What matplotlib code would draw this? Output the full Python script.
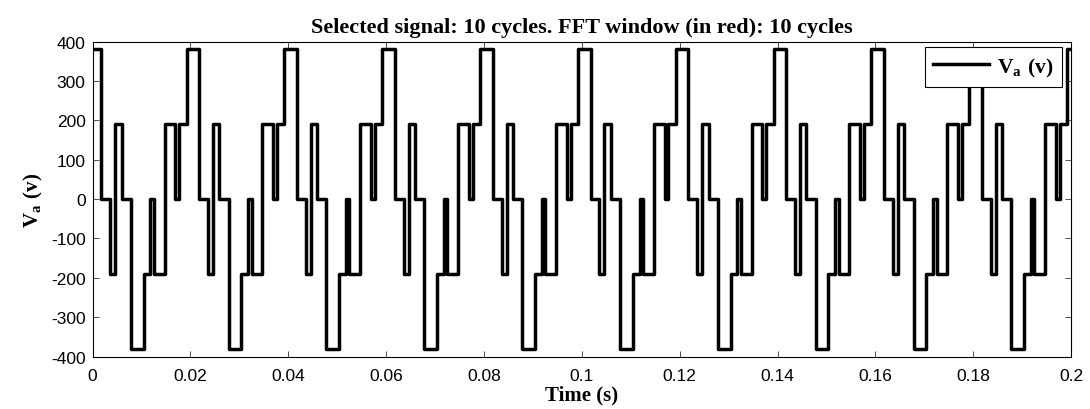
import matplotlib
matplotlib.use("Agg")
import matplotlib.pyplot as plt
import numpy as np

plt.rcParams['font.family'] = 'Liberation Sans'
plt.rcParams['axes.unicode_minus'] = False
plt.rcParams['mathtext.fontset'] = 'custom'
plt.rcParams['mathtext.bf'] = 'Liberation Serif:bold'
plt.rcParams['mathtext.rm'] = 'Liberation Serif:bold'

# one switching cycle: edge times (ms into the cycle) and level after each edge
edge_ms = [0.0, 1.8, 3.6, 4.6, 5.9, 7.8, 10.4, 11.8, 12.5, 14.7, 16.9, 17.7, 19.2]
levels = [380, 0, -190, 190, 0, -380, -190, 0, -190, 190, 0, 190, 380]
cycle_start = [0.0, 0.02, 0.04, 0.06, 0.08, 0.10, 0.12, 0.14, 0.16, 0.18]
t_end = 0.2

xticks = [0, 0.02, 0.04, 0.06, 0.08, 0.1, 0.12, 0.14, 0.16, 0.18, 0.2]
xlabels = ['0', '0.02', '0.04', '0.06', '0.08', '0.1', '0.12', '0.14', '0.16', '0.18', '0.2']
yticks = [-400, -300, -200, -100, 0, 100, 200, 300, 400]

t = []
v = []
for c in cycle_start:
    for e, lv in zip(edge_ms, levels):
        t.append(c + e / 1000.0)
        v.append(lv)
t.append(t_end)
v.append(v[-1])

fig = plt.figure(figsize=(10.9, 4.1), dpi=100)
ax = fig.add_axes([0.085, 0.1276, 0.8976, 0.7687])

ax.step(t, v, where='post', color='black', lw=2.5, label=r'$\mathbf{V_a\ (v)}$')

ax.set_xlim(0, 0.2)
ax.set_ylim(-400, 400)
ax.set_xticks(xticks)
ax.set_xticklabels(xlabels)
ax.set_yticks(yticks)
ax.tick_params(direction='in', length=4, width=0.6, labelsize=12.5, top=True, right=True,
               color='#333333')
ax.tick_params(axis='x', pad=8)
ax.tick_params(axis='y', pad=5)
for s in ax.spines.values():
    s.set_linewidth(0.8)

ax.set_title('Selected signal: 10 cycles. FFT window (in red): 10 cycles',
             fontfamily='Liberation Serif', fontweight='bold', fontsize=16, pad=7)
ax.set_xlabel('Time (s)', fontfamily='Liberation Serif', fontweight='bold', fontsize=15, labelpad=1)
ax.set_ylabel(r'$\mathbf{V_a\ (v)}$', fontsize=15, labelpad=4)

leg = ax.legend(loc='upper right', bbox_to_anchor=(0.991, 0.983), borderaxespad=0,
                fancybox=False, framealpha=1, edgecolor='black', fontsize=15.5,
                handlelength=2.6, borderpad=0.4, handletextpad=0.35)
leg.get_frame().set_linewidth(0.8)

fig.savefig('out.png', dpi=100)
